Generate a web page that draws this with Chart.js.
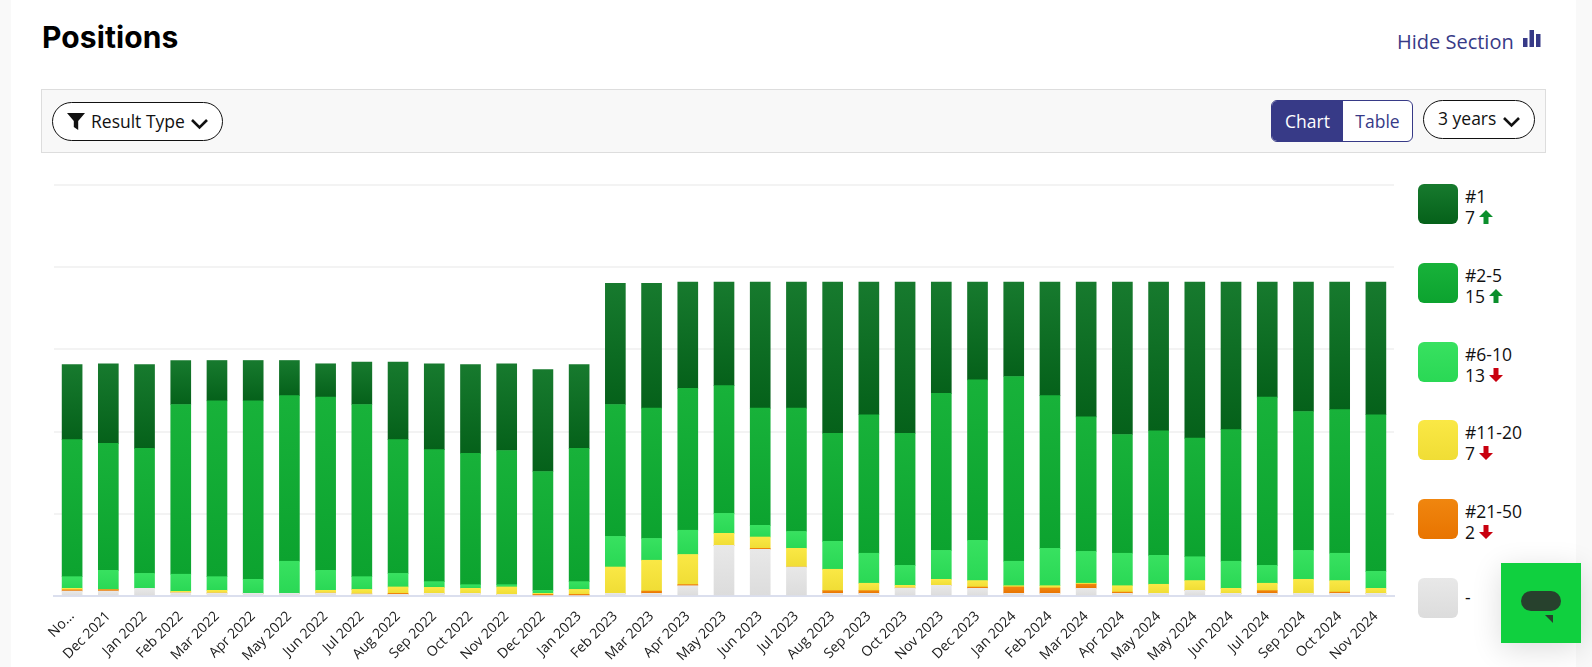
<!DOCTYPE html>
<html>
<head>
<meta charset="utf-8">
<title>Positions</title>
<script src="https://cdn.jsdelivr.net/npm/chart.js@4"></script>
<style>
    html, body { margin: 0; padding: 0; }
    body { width: 1592px; height: 667px; overflow: hidden; background: #f9f9f9; font-family: "Open Sans", sans-serif; color: #111; position: relative; }
    #panel { position: absolute; left: 11px; top: 0; width: 1565px; height: 667px; background: #fff; }
    h1 { position: absolute; left: 42px; top: 17px; margin: 0; font: 700 30px/40px Inter, sans-serif; color: #000; letter-spacing: 0.1px; }
    #hide { position: absolute; left: 1397px; top: 28px; font-size: 20px; line-height: 28px; color: #373a87; }
    #hideIcon { position: absolute; left: 1523px; top: 30px; }
    #bar { position: absolute; left: 41px; top: 89px; width: 1503px; height: 62px; background: #f8f8f8; border: 1px solid #ddd; }
    .pill { position: absolute; box-sizing: border-box; background: #fff; border: 1px solid #111; border-radius: 20px; font-size: 17.5px; line-height: 36px; white-space: nowrap; }
    #typePill { left: 52px; top: 102px; width: 171px; height: 39px; padding-left: 38px; }
    #yearsPill { left: 1423px; top: 100px; width: 112px; height: 39px; padding-left: 14px; line-height: 35px; }
    .pill svg { position: absolute; }
    #toggle { position: absolute; left: 1271px; top: 100px; width: 142px; height: 42px; box-sizing: border-box; border: 1px solid #373a87; border-radius: 6px; overflow: hidden; background: #fff; font-size: 17.5px; line-height: 40px; color: #373a87; }
    #toggle span { position: absolute; top: 0; height: 40px; text-align: center; }
    #toggle .on { left: 0; width: 71px; background: #373a87; color: #fff; }
    #toggle .off { left: 71px; width: 69px; }
    #chartBox { position: absolute; left: 40px; top: 170px; width: 1360px; height: 497px; }
    .sw { position: absolute; left: 1418px; width: 40px; height: 40px; box-sizing: border-box; border-radius: 6px; }
    .lg { position: absolute; left: 1465px; font-size: 17.5px; line-height: 21px; white-space: nowrap; }
    .lg svg { vertical-align: 0; margin-left: -1px; }
    #chat { position: absolute; left: 1501px; top: 563px; width: 80px; height: 80px; background: #10d03f; box-shadow: 0 6px 30px rgba(0,0,0,.14); }
    #chat i { position: absolute; left: 20px; top: 28px; width: 40px; height: 20px; border-radius: 10px; background: #27412d; }
    #chat b { position: absolute; left: 44px; top: 52px; width: 0; height: 0; border-top: 8px solid #27412d; border-left: 8px solid transparent; }
</style>
</head>
<body>
<div id="panel"></div>
<h1>Positions</h1>
<div id="hide">Hide Section</div>
<svg id="hideIcon" width="18" height="18" viewBox="0 0 18 18"><path fill="#373a87" d="M0 8h4.5v9H0zM6.5 0H11v17H6.5zM13 4h4.5v13H13z"/></svg>
<div id="bar"></div>
<div class="pill" id="typePill">
    <svg style="left:14px;top:10px" width="18" height="17" viewBox="0 0 18 17"><path fill="#111" d="M0 0h18l-6.8 8v9l-4.4-3V8z"/></svg>
    Result Type
    <svg style="left:137px;top:15px" width="19" height="12" viewBox="0 0 19 12"><path fill="none" stroke="#111" stroke-width="2.6" d="M2 2l7.5 7.5L17 2"/></svg>
</div>
<div id="toggle"><span class="on">Chart</span><span class="off">Table</span></div>
<div class="pill" id="yearsPill">
    3 years
    <svg style="left:78px;top:15px" width="19" height="12" viewBox="0 0 19 12"><path fill="none" stroke="#111" stroke-width="2.6" d="M2 2l7.5 7.5L17 2"/></svg>
</div>
<div id="chartBox"><canvas id="graficoPositions"></canvas></div>
<div id="legendBox"></div>
<div id="chat"><i></i><b></b></div>

<script>
const categories = ['No...', 'Dec 2021', 'Jan 2022', 'Feb 2022', 'Mar 2022', 'Apr 2022', 'May 2022', 'Jun 2022', 'Jul 2022',
    'Aug 2022', 'Sep 2022', 'Oct 2022', 'Nov 2022', 'Dec 2022', 'Jan 2023', 'Feb 2023', 'Mar 2023', 'Apr 2023', 'May 2023',
    'Jun 2023', 'Jul 2023', 'Aug 2023', 'Sep 2023', 'Oct 2023', 'Nov 2023', 'Dec 2023', 'Jan 2024', 'Feb 2024', 'Mar 2024',
    'Apr 2024', 'May 2024', 'May 2024', 'Jun 2024', 'Jul 2024', 'Sep 2024', 'Oct 2024', 'Nov 2024'];

const none = [1.2, 1.2, 1.87, 0.8, 0.7, 0.65, 0.65, 0.7, 0.5, 0.4, 0.65, 0.65, 0.4, 0, 0, 0.65, 0.65, 2.5, 12.3,
    11.35, 7.05, 0.65, 0.65, 1.95, 2.6, 1.87, 0.65, 0.65, 1.87, 0.65, 0.65, 1.38, 0.65, 0.65, 0.65, 0.65, 0.65];
const pos21to50 = [0.3, 0.34, 0, 0, 0, 0, 0, 0, 0, 0.25, 0, 0, 0, 0.4, 0.4, 0, 0.55, 0.3, 0,
    0.25, 0, 0.65, 0.65, 0, 0, 0.3, 1.55, 1.3, 1, 0.3, 0, 0, 0, 0.65, 0, 0.3, 0];
const pos11to20 = [0.37, 0, 0, 0.33, 0.68, 0, 0, 0.68, 1.1, 1.55, 1.45, 1.22, 1.8, 0.25, 1.2, 6.4, 7.5, 7.3, 2.95,
    2.75, 4.55, 5.2, 1.8, 0.65, 1.45, 1.58, 0.3, 0.55, 0.23, 1.55, 2.2, 2.37, 1.22, 1.8, 3.4, 2.8, 1.22];
const pos6to10 = [2.83, 4.71, 3.63, 4.17, 3.32, 3.4, 7.8, 4.87, 3.1, 3.3, 1.4, 0.88, 0.55, 0.73, 1.9, 7.45, 5.3, 5.9, 4.85,
    2.85, 4.1, 6.8, 7.3, 4.85, 7.05, 9.8, 5.95, 9.1, 7.75, 7.9, 7.05, 5.8, 6.58, 4.35, 7.05, 6.65, 4.13];
const pos2to5 = [33.35, 30.9, 30.4, 41.3, 42.8, 43.45, 40.3, 42.15, 41.9, 32.55, 32.1, 31.95, 32.65, 28.92, 32.4, 32.1, 31.7, 34.5, 31.1,
    28.5, 30, 26.3, 33.7, 32.15, 38.2, 39.05, 44.95, 37.15, 32.75, 28.9, 30.3, 28.85, 32.05, 40.95, 33.8, 34.95, 38.1];
const pos1 = [18.25, 19.35, 20.4, 10.7, 9.8, 9.8, 8.55, 8.1, 10.3, 18.85, 20.9, 21.6, 21.1, 24.8, 20.4, 29.5, 30.4, 25.9, 25.2,
    30.7, 30.7, 36.8, 32.3, 36.8, 27.1, 23.8, 23, 27.65, 32.8, 37.1, 36.2, 38, 35.9, 28, 31.5, 31.05, 32.3];

const legendNames = ['#1', '#2-5', '#6-10', '#11-20', '#21-50', '-'];
const legendCounts = ['7', '15', '13', '7', '2', ''];
const legendMoves = ['up', 'up', 'down', 'down', 'down', ''];
const legendTops = [184, 263, 342, 420, 499, 578];
const colorsTop = ['#177a2e', '#18b23a', '#38e160', '#fae845', '#f0860f', '#e8e8e8'];
const colorsBottom = ['#05611a', '#0ca32f', '#2ad855', '#f0dd35', '#e87400', '#dcdcdc'];

// each segment gets its own vertical gradient, computed from the stack below it
function segmentFill(context, seriesIdx) {
    const chart = context.chart;
    const y = chart.scales.y;
    if (!y || context.dataIndex === undefined) {
        return colorsTop[seriesIdx];
    }
    let low = 0;
    for (let i = 0; i < context.datasetIndex; i++) {
        low += chart.data.datasets[i].data[context.dataIndex];
    }
    const high = low + chart.data.datasets[context.datasetIndex].data[context.dataIndex];
    const yTop = y.getPixelForValue(high);
    const yBottom = y.getPixelForValue(low);
    // scales have no size yet on the first pass
    if (!Number.isFinite(yTop) || !Number.isFinite(yBottom)) {
        return colorsTop[seriesIdx];
    }
    const grad = chart.ctx.createLinearGradient(0, yTop, 0, Math.max(yBottom, yTop + 1));
    grad.addColorStop(0, colorsTop[seriesIdx]);
    grad.addColorStop(1, colorsBottom[seriesIdx]);
    return grad;
}

function makeDataset(name, values, seriesIdx) {
    return {
        label: name,
        data: values,
        backgroundColor: (context) => segmentFill(context, seriesIdx),
        borderWidth: 0,
        barThickness: 20,
        stack: 'positions'
    };
}

const configPositions = {
    type: 'bar',
    data: {
        labels: categories,
        datasets: [
            makeDataset(legendNames[5], none, 5),
            makeDataset(legendNames[4], pos21to50, 4),
            makeDataset(legendNames[3], pos11to20, 3),
            makeDataset(legendNames[2], pos6to10, 2),
            makeDataset(legendNames[1], pos2to5, 1),
            makeDataset(legendNames[0], pos1, 0)
        ]
    },
    options: {
        responsive: false,
        animation: false,
        layout: { padding: { left: 14, right: 6, top: 15, bottom: 0 } },
        plugins: { legend: { display: false }, tooltip: { enabled: false } },
        scales: {
            x: {
                stacked: true,
                grid: { display: false },
                border: { color: '#dbdfee', width: 2 },
                ticks: {
                    autoSkip: false,
                    minRotation: 45,
                    maxRotation: 45,
                    padding: 4,
                    color: '#1a1a1a',
                    font: { family: '"Open Sans"', size: 14 }
                },
                afterFit: (scale) => { scale.height = 71; }
            },
            y: {
                stacked: true,
                min: 0,
                max: 100,
                ticks: { display: false, stepSize: 20 },
                grid: { color: '#f3f3f3', lineWidth: 2, drawTicks: false },
                border: { display: false },
                afterFit: (scale) => { scale.width = 0; }
            }
        }
    }
};

const canvas = document.getElementById('graficoPositions');
canvas.width = 1360;
canvas.height = 497;
new Chart(canvas, configPositions);

// legend on the right, same names and colours as the datasets
const legendBox = document.getElementById('legendBox');
const arrowUp = '<svg width="14" height="14" viewBox="0 0 14 14"><path fill="#0b8f2c" d="M7 0l7 7H9.5v7h-5V7H0z"/></svg>';
const arrowDown = '<svg width="14" height="14" viewBox="0 0 14 14"><path fill="#c9000f" d="M7 14L0 7h4.5V0h5v7H14z"/></svg>';
legendNames.forEach((name, i) => {
    const arrow = legendMoves[i] === 'up' ? arrowUp : legendMoves[i] === 'down' ? arrowDown : '';
    const count = legendCounts[i] ? '<br>' + legendCounts[i] + ' ' + arrow : '';
    const offset = legendCounts[i] ? 2 : 9;
    legendBox.insertAdjacentHTML('beforeend',
        '<div class="sw" style="top:' + legendTops[i] + 'px;background:linear-gradient(' + colorsTop[i] + ',' + colorsBottom[i] + ')"></div>' +
        '<div class="lg" style="top:' + (legendTops[i] + offset) + 'px">' + name + count + '</div>');
});
</script>
</body>
</html>
